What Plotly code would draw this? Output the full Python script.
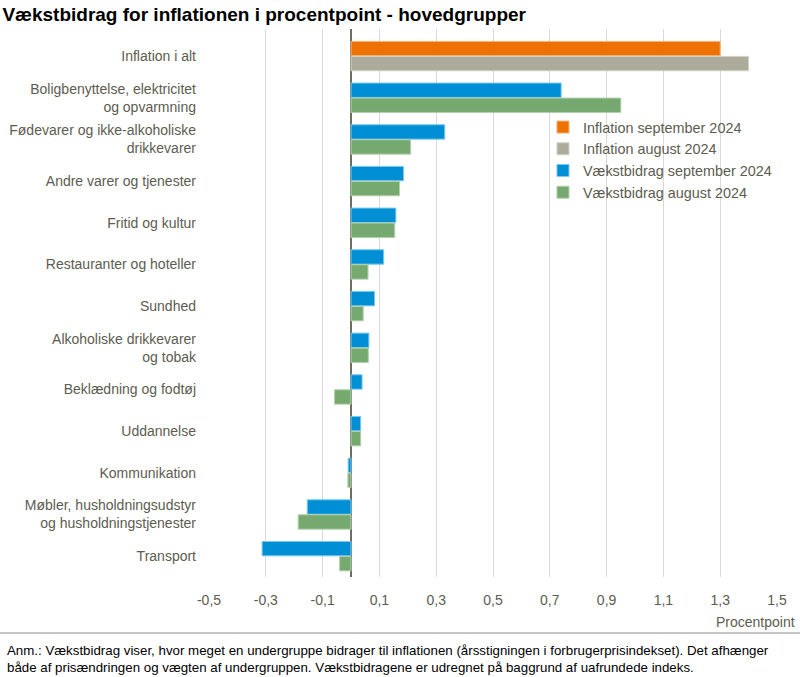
import plotly.graph_objects as go

categories = [
    "Inflation i alt",
    "Boligbenyttelse, elektricitet<br>og opvarmning",
    "Fødevarer og ikke-alkoholiske<br>drikkevarer",
    "Andre varer og tjenester",
    "Fritid og kultur",
    "Restauranter og hoteller",
    "Sundhed",
    "Alkoholiske drikkevarer<br>og tobak",
    "Beklædning og fodtøj",
    "Uddannelse",
    "Kommunikation",
    "Møbler, husholdningsudstyr<br>og husholdningstjenester",
    "Transport",
]

inflation_sep = [1.30]
inflation_aug = [1.40]
vaekst_sep = [0.74, 0.33, 0.185, 0.158, 0.115, 0.083, 0.063, 0.039, 0.034, -0.010, -0.154, -0.313]
vaekst_aug = [0.95, 0.21, 0.171, 0.154, 0.060, 0.043, 0.061, -0.058, 0.034, -0.011, -0.186, -0.040]

tick_vals = [-0.5, -0.3, -0.1, 0.1, 0.3, 0.5, 0.7, 0.9, 1.1, 1.3, 1.5]
tick_text = ["-0,5", "-0,3", "-0,1", "0,1", "0,3", "0,5", "0,7", "0,9", "1,1", "1,3", "1,5"]

FONT = "Liberation Sans, Arial, sans-serif"
TXT = "#5c5c50"

fig = go.Figure()
fig.add_trace(go.Bar(y=categories[:1], x=inflation_sep, orientation="h", name="Inflation september 2024",
                     marker=dict(color="#ED7203", line=dict(color="#F7B27A", width=1)), offsetgroup="sep"))
fig.add_trace(go.Bar(y=categories[:1], x=inflation_aug, orientation="h", name="Inflation august 2024",
                     marker=dict(color="#ADAC9C", line=dict(color="#D2D1C6", width=1)), offsetgroup="aug"))
fig.add_trace(go.Bar(y=categories[1:], x=vaekst_sep, orientation="h", name="Vækstbidrag september 2024",
                     marker=dict(color="#008FD5", line=dict(color="#7CC8EE", width=1)), offsetgroup="sep"))
fig.add_trace(go.Bar(y=categories[1:], x=vaekst_aug, orientation="h", name="Vækstbidrag august 2024",
                     marker=dict(color="#76A96F", line=dict(color="#B4D1AE", width=1)), offsetgroup="aug"))

fig.update_layout(
    width=800, height=677,
    margin=dict(l=209, r=23, t=29, b=100, autoexpand=False),
    paper_bgcolor="white", plot_bgcolor="white",
    barmode="group", bargap=0.28, bargroupgap=0.04,
    font=dict(family=FONT, size=14, color=TXT),
    title=dict(text="<b>Vækstbidrag for inflationen i procentpoint - hovedgrupper</b>",
               font=dict(family=FONT, size=19, color="#000000"),
               xref="container", x=0.003, xanchor="left", yref="container", y=1 - 14 / 677, yanchor="middle"),
    legend=dict(x=0.588, y=0.85, xanchor="left", yanchor="top", bgcolor="rgba(255,255,255,0)",
                font=dict(family=FONT, size=14.4, color=TXT), tracegroupgap=0, itemwidth=30),
    showlegend=True,
)

fig.update_xaxes(range=[-0.5, 1.5], tickvals=tick_vals, ticktext=tick_text, automargin=False,
                 showgrid=True, gridcolor="#D9D9D9", gridwidth=1,
                 zeroline=True, zerolinecolor="#6E6E60", zerolinewidth=1.5,
                 showline=False, ticks="", ticklabelstandoff=13, tickfont=dict(size=14, color=TXT))
fig.update_yaxes(type="category", categoryorder="array", categoryarray=categories, automargin=False,
                 range=[12.5, -0.65], showgrid=False, ticks="", ticklabelstandoff=12,
                 tickfont=dict(size=14, color=TXT))

fig.add_annotation(text="Procentpoint", xref="paper", yref="paper", x=(797 - 209) / 568, y=-(622 - 577) / 548,
                   xanchor="right", yanchor="middle", showarrow=False,
                   font=dict(family=FONT, size=14, color=TXT))

fig.add_shape(type="line", xref="paper", yref="paper", x0=-209 / 568, x1=(800 - 209) / 568,
              y0=-(633 - 577) / 548, y1=-(633 - 577) / 548, line=dict(color="#8C8C8C", width=1))
fig.add_annotation(
    text=("Anm.: Vækstbidrag viser, hvor meget en undergruppe bidrager til inflationen (årsstigningen i forbrugerprisindekset). Det afhænger<br>"
          "både af prisændringen og vægten af undergruppen. Vækstbidragene er udregnet på baggrund af uafrundede indeks."),
    xref="paper", yref="paper", x=-204 / 568, y=-(641 - 577) / 548, xanchor="left", yanchor="top",
    align="left", showarrow=False, font=dict(family=FONT, size=13.3, color="#000000"))

fig.write_html("out.html", config={"displayModeBar": False},
               post_script="document.body.style.margin='0';document.body.style.overflow='hidden';")
